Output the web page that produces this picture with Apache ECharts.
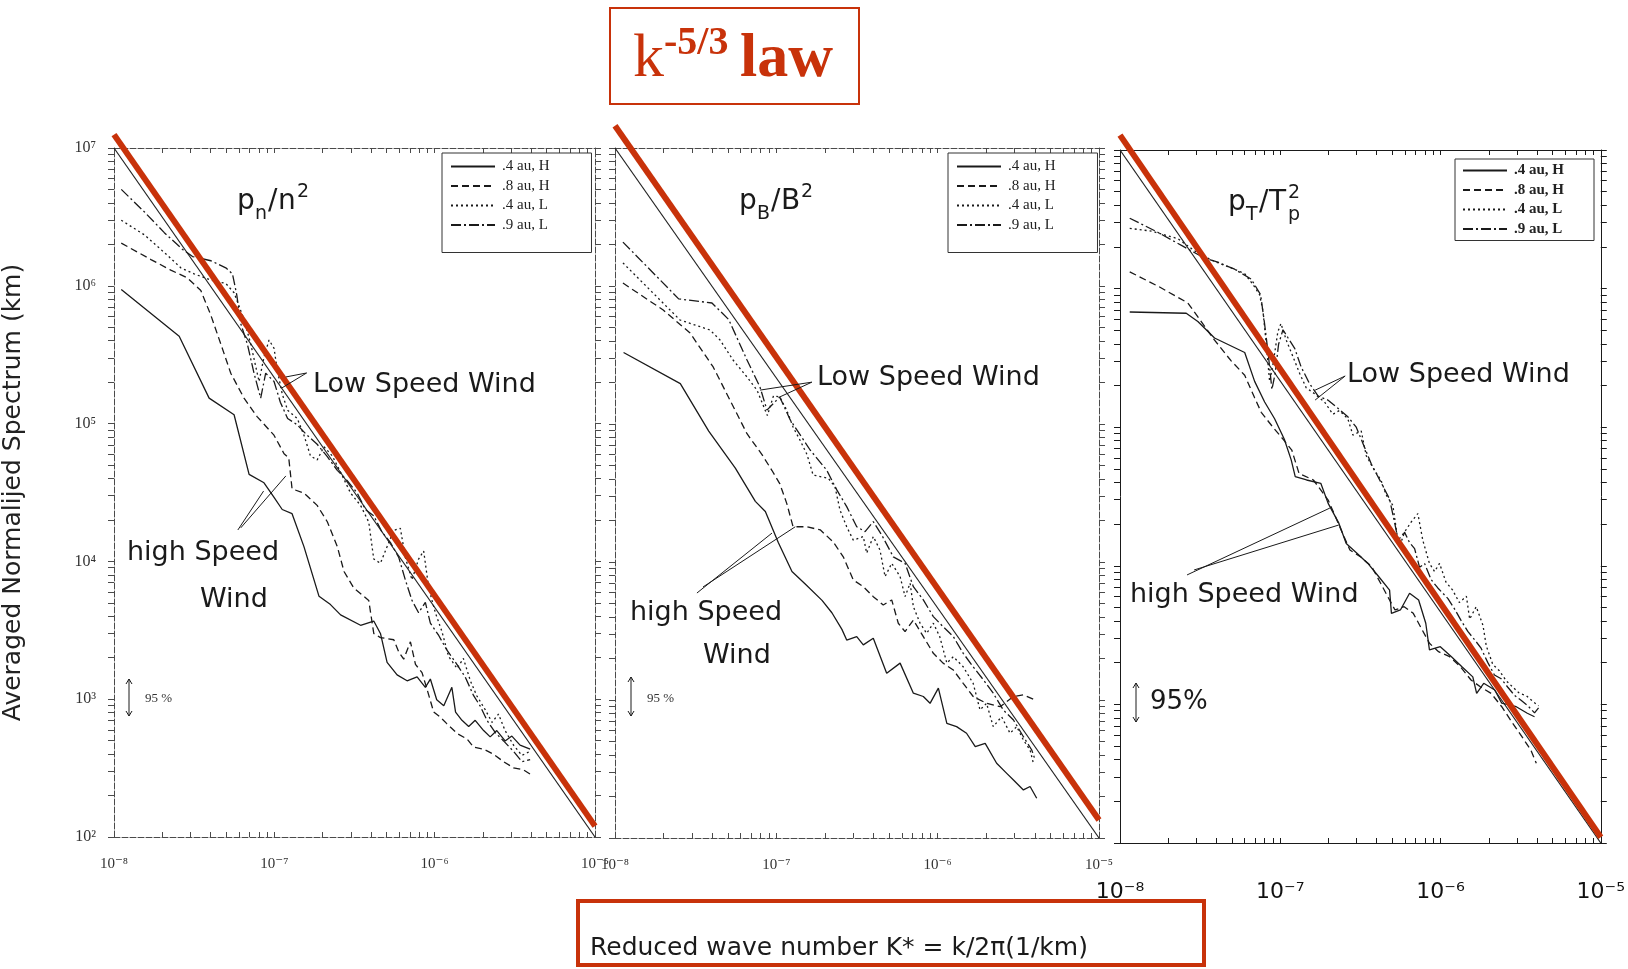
<!DOCTYPE html>
<html>
<head>
<meta charset="utf-8">
<script src="https://cdn.jsdelivr.net/npm/echarts@6/dist/echarts.min.js"></script>
<style>
  html, body { margin: 0; padding: 0; background: #fff; }
  #chart { width: 1628px; height: 969px; }
</style>
</head>
<body>
<div id="chart"></div>
<script>
// ---- axis ranges and tick labels ----
const kTicks = [1e-8, 1e-7, 1e-6, 1e-5];
const sTicks = [1e2, 1e3, 1e4, 1e5, 1e6, 1e7];
const seriesNames = ['.4 au, H', '.8 au, H', '.4 au, L', '.9 au, L'];

// ---- density spectra p_n / n^2 : [K*, spectrum] ----
const pnSolid = [[1.11e-8,9.4e5],[2.55e-8,4.3e5],[3.92e-8,1.53e5],[5.61e-8,1.16e5],[6.96e-8,4.28e4],[8.62e-8,3.72e4],[9.96e-8,2.92e4],[1.12e-7,2.38e4],[1.29e-7,2.22e4],[1.53e-7,1.28e4],[1.90e-7,5.58e3],[2.24e-7,4.86e3],[2.59e-7,4.09e3],[3.45e-7,3.44e3],[4.17e-7,3.69e3],[4.59e-7,3.0e3],[5.05e-7,1.85e3],[5.83e-7,1.50e3],[6.73e-7,1.36e3],[7.77e-7,1.45e3],[8.75e-7,1.22e3],[9.40e-7,1.40e3],[1.03e-6,9.9e2],[1.14e-6,8.95e2],[1.28e-6,1.22e3],[1.35e-6,8.07e2],[1.48e-6,7.03e2],[1.63e-6,6.34e2],[1.79e-6,7.03e2],[2.02e-6,5.92e2],[2.22e-6,5.33e2],[2.44e-6,5.92e2],[2.75e-6,4.98e2],[3.03e-6,5.4e2],[3.41e-6,4.64e2],[3.94e-6,4.34e2]];
const pnDashed = [[1.11e-8,2.04e6],[1.70e-8,1.55e6],[2.26e-8,1.30e6],[2.87e-8,1.14e6],[3.48e-8,9.24e5],[4.02e-8,6.11e5],[4.64e-8,3.77e5],[5.35e-8,2.32e5],[6.47e-8,1.53e5],[7.83e-8,1.12e5],[9.95e-8,8.24e4],[1.15e-7,6.04e4],[1.23e-7,5.64e4],[1.29e-7,3.36e4],[1.53e-7,3.13e4],[1.85e-7,2.55e4],[2.14e-7,1.94e4],[2.47e-7,1.28e4],[2.72e-7,8.45e3],[3.13e-7,6.41e3],[3.62e-7,5.58e3],[3.88e-7,5.21e3],[4.17e-7,3.0e3],[4.59e-7,2.80e3],[5.56e-7,2.70e3],[5.97e-7,2.20e3],[6.41e-7,1.95e3],[7.06e-7,2.61e3],[7.59e-7,1.79e3],[8.34e-7,1.56e3],[8.96e-7,1.18e3],[9.86e-7,8.07e2],[1.08e-6,7.43e2],[1.19e-6,6.65e2],[1.38e-6,5.64e2],[1.59e-6,5.15e2],[1.75e-6,4.49e2],[2.02e-6,4.34e2],[2.33e-6,3.99e2],[2.69e-6,3.52e2],[3.10e-6,3.18e2],[3.58e-6,3.07e2],[3.94e-6,2.86e2]];
const pnDotted = [[1.11e-8,2.99e6],[1.55e-8,2.34e6],[2.16e-8,1.66e6],[2.61e-8,1.35e6],[3.16e-8,1.22e6],[4.02e-8,1.10e6],[4.98e-8,1.04e6],[5.61e-8,8.9e5],[6.47e-8,5.7e5],[7.13e-8,3.77e5],[8.03e-8,2.02e5],[8.63e-8,3.06e5],[9.27e-8,4.04e5],[9.96e-8,3.52e5],[1.04e-7,2.49e5],[1.12e-7,1.64e5],[1.21e-7,1.25e5],[1.39e-7,1.09e5],[1.53e-7,8.24e4],[1.68e-7,5.83e4],[1.85e-7,5.45e4],[2.04e-7,6.79e4],[2.30e-7,5.83e4],[2.59e-7,4.43e4],[2.99e-7,3.13e4],[3.45e-7,2.55e4],[3.88e-7,1.93e4],[4.17e-7,1.04e4],[4.59e-7,9.7e3],[5.05e-7,1.28e4],[5.56e-7,1.68e4],[6.11e-7,1.74e4],[6.56e-7,1.07e4],[7.22e-7,7.35e3],[7.94e-7,1.04e4],[8.54e-7,1.19e4],[9.18e-7,6.41e3],[1.01e-6,4.24e3],[1.11e-6,3.10e3],[1.22e-6,2.05e3],[1.38e-6,1.67e3],[1.51e-6,1.98e3],[1.67e-6,1.36e3],[1.83e-6,1.06e3],[2.07e-6,8.36e2],[2.28e-6,6.79e2],[2.50e-6,7.80e2],[2.75e-6,5.92e2],[3.10e-6,4.65e2],[3.50e-6,3.91e2],[3.94e-6,4.19e2]];
const pnDashDot = [[1.11e-8,5.01e6],[1.55e-8,3.43e6],[2.06e-8,2.43e6],[2.67e-8,1.84e6],[3.09e-8,1.63e6],[4.02e-8,1.52e6],[4.98e-8,1.35e6],[5.48e-8,1.22e6],[5.83e-8,8.6e5],[6.17e-8,5.32e5],[6.79e-8,3.77e5],[7.47e-8,2.32e5],[8.22e-8,1.53e5],[8.83e-8,2.32e5],[9.96e-8,2.02e5],[1.09e-7,1.43e5],[1.21e-7,1.09e5],[1.39e-7,9.8e4],[1.60e-7,8.24e4],[1.85e-7,7.08e4],[2.14e-7,5.76e4],[2.47e-7,4.58e4],[2.85e-7,3.85e4],[3.29e-7,3.13e4],[3.70e-7,2.38e4],[4.17e-7,2.14e4],[4.70e-7,1.63e4],[5.30e-7,1.37e4],[5.97e-7,1.07e4],[6.56e-7,7.35e3],[7.22e-7,5.21e3],[7.94e-7,4.24e3],[8.75e-7,5.04e3],[9.40e-7,3.56e3],[1.06e-6,2.90e3],[1.19e-6,2.28e3],[1.35e-6,1.85e3],[1.55e-6,1.45e3],[1.75e-6,1.06e3],[1.92e-6,8.95e2],[2.12e-6,7.03e2],[2.39e-6,5.71e2],[2.69e-6,4.98e2],[3.10e-6,4.19e2],[3.50e-6,3.52e2],[3.94e-6,3.65e2]];

// ---- magnetic field spectra p_B / B^2 ----
const pbSolid = [[1.13e-8,3.3e5],[2.54e-8,1.96e5],[3.81e-8,8.89e4],[5.57e-8,4.79e4],[7.41e-8,2.75e4],[8.55e-8,2.32e4],[1.03e-7,1.38e4],[1.25e-7,8.53e3],[1.51e-7,6.93e3],[1.92e-7,5.27e3],[2.21e-7,4.29e3],[2.55e-7,3.25e3],[2.73e-7,2.72e3],[3.15e-7,2.88e3],[3.46e-7,2.51e3],[3.99e-7,2.80e3],[4.83e-7,1.56e3],[5.85e-7,1.85e3],[7.07e-7,1.12e3],[8.15e-7,1.06e3],[8.97e-7,9.46e2],[1.01e-6,1.22e3],[1.14e-6,6.78e2],[1.31e-6,6.41e2],[1.51e-6,5.74e2],[1.71e-6,4.59e2],[1.97e-6,4.85e2],[2.32e-6,3.48e2],[2.68e-6,2.94e2],[2.95e-6,2.63e2],[3.40e-6,2.23e2],[3.74e-6,2.36e2],[4.11e-6,1.94e2]];
const pbDashed = [[1.12e-8,1.05e6],[1.99e-8,6.7e5],[2.92e-8,4.56e5],[4.06e-8,2.59e5],[5.16e-8,1.49e5],[6.58e-8,8.5e4],[8.15e-8,6.0e4],[9.4e-8,4.6e4],[1.05e-7,3.7e4],[1.16e-7,2.66e4],[1.27e-7,1.8e4],[1.54e-7,1.8e4],[1.87e-7,1.71e4],[2.25e-7,1.4e4],[2.6e-7,1.09e4],[3.0e-7,7.41e3],[3.46e-7,6.62e3],[3.99e-7,5.61e3],[4.6e-7,4.88e3],[5.19e-7,5.31e3],[5.7e-7,3.6e3],[6.28e-7,3.13e3],[7.07e-7,3.8e3],[8.15e-7,2.88e3],[9.4e-7,2.18e3],[1.08e-6,1.85e3],[1.25e-6,1.65e3],[1.44e-6,1.32e3],[1.66e-6,1.06e3],[2.01e-6,9.46e2],[2.44e-6,8.94e2],[2.95e-6,1.06e3],[3.4e-6,1.09e3],[4.02e-6,1.0e3]];
const pbDotted = [[1.12e-8,1.47e6],[2.53e-8,5.67e5],[3.88e-8,4.8e5],[4.48e-8,4.06e5],[5.39e-8,2.91e5],[6.58e-8,2.19e5],[7.59e-8,1.76e5],[8.8e-8,1.15e5],[9.6e-8,1.6e5],[1.05e-7,1.57e5],[1.16e-7,1.26e5],[1.27e-7,9.5e4],[1.40e-7,7.66e4],[1.55e-7,6.0e4],[1.69e-7,4.27e4],[2.10e-7,4.04e4],[2.31e-7,3.51e4],[2.48e-7,2.38e4],[2.73e-7,1.80e4],[3.0e-7,1.44e4],[3.46e-7,1.53e4],[3.63e-7,1.16e4],[3.99e-7,1.53e4],[4.39e-7,1.22e4],[4.72e-7,7.83e3],[5.19e-7,9.78e3],[5.85e-7,7.83e3],[6.28e-7,5.61e3],[6.75e-7,7.02e3],[7.07e-7,4.74e3],[7.78e-7,3.6e3],[8.55e-7,3.04e3],[9.40e-7,3.6e3],[1.03e-6,2.88e3],[1.14e-6,1.85e3],[1.25e-6,2.06e3],[1.44e-6,1.74e3],[1.66e-6,1.32e3],[1.83e-6,8.47e2],[2.01e-6,9.46e2],[2.21e-6,6.41e2],[2.49e-6,7.57e2],[2.81e-6,5.74e2],[3.09e-6,6.41e2],[3.40e-6,5.13e2],[3.74e-6,4.34e2],[3.92e-6,3.48e2]];
const pbDashDot = [[1.12e-8,2.08e6],[2.48e-8,8.07e5],[3.99e-8,7.53e5],[5.07e-8,5.71e5],[6.58e-8,2.91e5],[7.92e-8,1.85e5],[8.75e-8,1.26e5],[1.05e-7,1.57e5],[1.22e-7,1.07e5],[1.62e-7,6.48e4],[2.05e-7,4.64e4],[2.37e-7,3.33e4],[2.73e-7,2.52e4],[3.15e-7,1.80e4],[3.55e-7,1.66e4],[3.99e-7,1.96e4],[4.50e-7,1.57e4],[5.31e-7,1.09e4],[6.28e-7,9.78e3],[7.07e-7,6.62e3],[8.15e-7,5.31e3],[9.40e-7,4.02e3],[1.08e-6,3.40e3],[1.25e-6,2.88e3],[1.44e-6,2.18e3],[1.66e-6,1.74e3],[1.92e-6,1.40e3],[2.21e-6,1.12e3],[2.55e-6,8.47e2],[2.95e-6,7.16e2],[3.40e-6,5.42e2],[3.83e-6,4.34e2],[4.02e-6,3.68e2]];

// ---- temperature spectra p_T / T_p^2 ----
const ptSolid = [[1.15e-8,6.78e5],[2.59e-8,6.64e5],[3.06e-8,5.79e5],[3.89e-8,4.40e5],[6.0e-8,3.46e5],[6.92e-8,2.14e5],[7.99e-8,1.52e5],[9.22e-8,1.15e5],[1.06e-7,8.18e4],[1.17e-7,5.81e4],[1.24e-7,4.40e4],[1.46e-7,4.16e4],[1.79e-7,3.94e4],[1.99e-7,2.82e4],[2.32e-7,2.03e4],[2.58e-7,1.45e4],[3.01e-7,1.23e4],[3.52e-7,1.04e4],[4.12e-7,8.34e3],[4.81e-7,6.68e3],[4.94e-7,4.54e3],[5.62e-7,4.80e3],[6.41e-7,6.34e3],[7.30e-7,5.66e3],[8.09e-7,3.85e3],[8.53e-7,2.47e3],[9.97e-7,2.61e3],[1.17e-6,2.21e3],[1.36e-6,1.87e3],[1.59e-6,1.58e3],[1.68e-6,1.20e3],[1.86e-6,1.42e3],[2.18e-6,1.27e3],[2.41e-6,1.02e3],[2.97e-6,9.62e2],[3.48e-6,8.63e2],[3.86e-6,8.15e2]];
const ptDashed = [[1.15e-8,1.32e6],[1.73e-8,1.04e6],[2.65e-8,7.88e5],[3.14e-8,6.0e5],[3.89e-8,4.25e5],[4.94e-8,3.01e5],[6.0e-8,2.37e5],[6.92e-8,1.63e5],[7.61e-8,1.28e5],[9.0e-8,1.0e5],[1.04e-7,8.2e4],[1.18e-7,6.84e4],[1.31e-7,4.64e4],[1.61e-7,4.16e4],[1.99e-7,2.98e4],[2.21e-7,2.26e4],[2.45e-7,1.71e4],[2.72e-7,1.30e4],[3.18e-7,1.16e4],[3.72e-7,9.86e3],[4.23e-7,7.48e3],[4.69e-7,5.98e3],[5.20e-7,4.80e3],[5.93e-7,5.07e3],[6.76e-7,4.54e3],[7.69e-7,3.44e3],[8.53e-7,2.76e3],[9.72e-7,2.40e3],[1.14e-6,2.21e3],[1.33e-6,1.87e3],[1.55e-6,1.50e3],[1.77e-6,1.34e3],[2.07e-6,1.20e3],[2.41e-6,9.62e2],[2.82e-6,7.31e2],[3.22e-6,5.85e2],[3.66e-6,4.69e2],[3.96e-6,3.76e2]];
const ptDotted = [[1.15e-8,2.72e6],[1.57e-8,2.6e6],[2.30e-8,2.29e6],[3.06e-8,1.80e6],[3.89e-8,1.57e6],[4.94e-8,1.41e6],[6.0e-8,1.28e6],[6.76e-8,1.07e6],[7.43e-8,9.04e5],[7.80e-8,6.87e5],[8.18e-8,3.97e5],[8.58e-8,2.14e5],[9.0e-8,2.82e5],[9.66e-8,4.88e5],[1.01e-7,5.60e5],[1.09e-7,4.25e5],[1.20e-7,3.23e5],[1.32e-7,2.45e5],[1.45e-7,1.93e5],[1.64e-7,1.74e5],[1.89e-7,1.52e5],[2.13e-7,1.24e5],[2.34e-7,1.32e5],[2.64e-7,1.15e5],[2.84e-7,8.77e4],[3.20e-7,9.39e4],[3.44e-7,6.22e4],[3.87e-7,4.89e4],[4.26e-7,4.12e4],[4.58e-7,3.24e4],[5.04e-7,2.73e4],[5.42e-7,1.52e4],[5.96e-7,1.75e4],[6.56e-7,2.07e4],[7.22e-7,2.38e4],[7.76e-7,1.52e4],[8.53e-7,1.04e4],[9.18e-7,9.09e3],[9.86e-7,1.04e4],[1.08e-6,7.65e3],[1.19e-6,6.68e3],[1.31e-6,5.43e3],[1.45e-6,6.03e3],[1.52e-6,4.13e3],[1.67e-6,5.07e3],[1.84e-6,3.72e3],[1.93e-6,2.64e3],[2.12e-6,1.94e3],[2.33e-6,1.75e3],[2.57e-6,1.48e3],[2.83e-6,1.33e3],[3.11e-6,1.20e3],[3.42e-6,1.16e3],[3.77e-6,1.05e3],[4.09e-6,9.77e2]];
const ptDashDot = [[1.15e-8,3.22e6],[1.73e-8,2.54e6],[2.53e-8,1.99e6],[3.37e-8,1.66e6],[4.08e-8,1.55e6],[5.19e-8,1.38e6],[6.59e-8,1.17e6],[7.54e-8,9.04e5],[7.98e-8,5.60e5],[8.45e-8,3.23e5],[8.87e-8,1.87e5],[9.30e-8,2.45e5],[9.76e-8,3.97e5],[1.04e-7,5.05e5],[1.12e-7,4.40e5],[1.23e-7,3.71e5],[1.35e-7,2.72e5],[1.52e-7,2.07e5],[1.72e-7,1.68e5],[1.98e-7,1.57e5],[2.29e-7,1.37e5],[2.64e-7,1.19e5],[2.98e-7,1.0e5],[3.28e-7,7.64e4],[3.70e-7,5.42e4],[4.26e-7,3.98e4],[4.81e-7,3.03e4],[5.16e-7,2.07e4],[5.55e-7,1.37e4],[5.96e-7,1.75e4],[6.41e-7,1.47e4],[6.89e-7,1.33e4],[7.40e-7,9.75e3],[7.95e-7,1.04e4],[8.75e-7,7.93e3],[9.62e-7,6.92e3],[1.11e-6,5.82e3],[1.22e-6,4.91e3],[1.35e-6,3.99e3],[1.48e-6,3.36e3],[1.63e-6,2.93e3],[1.79e-6,2.55e3],[1.97e-6,2.01e3],[2.17e-6,1.63e3],[2.39e-6,1.53e3],[2.63e-6,1.33e3],[2.90e-6,1.16e3],[3.18e-6,1.07e3],[3.51e-6,9.77e2],[3.86e-6,8.69e2],[4.09e-6,9.44e2]];

// ---- reference slope and hand-drawn k^-5/3 law lines ----
const slopeLine = [[1e-8, 1e7], [1e-5, 1e2]];
const lawLineN = [[1e-8, 1.25e7], [1e-5, 1.2e2]];
const lawLineB = [[1e-8, 1.45e7], [1e-5, 1.35e2]];
const lawLineT = [[1e-8, 1.28e7], [1e-5, 1.1e2]];

// ---- leader lines for the wind annotations: pairs of [K*, spectrum] ----
const pnLeaders = [[[1.59e-7,2.33e5],[1.18e-7,2.18e5]], [[1.59e-7,2.33e5],[1.11e-7,1.81e5]], [[5.92e-8,1.69e4],[8.57e-8,3.24e4]], [[6.17e-8,1.75e4],[1.18e-7,4.17e4]]];
const pbLeaders = [[[1.66e-7,2.01e5],[7.92e-8,1.76e5]], [[1.66e-7,2.01e5],[1.05e-7,1.57e5]], [[3.22e-8,5.96e3],[9.40e-8,1.62e4]], [[3.51e-8,6.59e3],[1.31e-7,1.80e4]]];
const ptLeaders = [[[2.54e-7,2.34e5],[1.65e-7,1.85e5]], [[2.54e-7,2.34e5],[1.65e-7,1.57e5]], [[2.62e-8,8.59e3],[2.04e-7,2.61e4]], [[2.90e-8,9.33e3],[2.32e-7,1.97e4]]];

// ---------------------------------------------------------------
const RED = '#c8320a';
const INK = '#1a1a1a';
const SANS = '"DejaVu Sans", "Noto Sans", sans-serif';
const SERIF = '"Liberation Serif", "DejaVu Serif", serif';

const supMap = {'-': '\u207B', '0': '\u2070', '1': '\u00B9', '2': '\u00B2', '3': '\u00B3', '4': '\u2074', '5': '\u2075', '6': '\u2076', '7': '\u2077', '8': '\u2078', '9': '\u2079'};
function powLabel(v) {
  const e = Math.round(Math.log10(v));
  return '10' + String(e).split('').map(c => supMap[c]).join('');
}
function logMinor(lo, hi) {
  const out = [];
  for (let e = lo; e < hi; e++) for (let m = 1; m < 10; m++) out.push(+(m * Math.pow(10, e)).toPrecision(3));
  out.push(Math.pow(10, hi));
  return out;
}
const kMinor = logMinor(-8, -5);
const sMinor = logMinor(2, 7);

const panels = [
  { grid: {left: 113, top: 148, width: 482, height: 689}, curves: [pnSolid, pnDashed, pnDotted, pnDashDot], law: lawLineN, leaders: pnLeaders, axisColor: '#4a4a4a', axisType: [6, 2] },
  { grid: {left: 615, top: 148, width: 484, height: 690}, curves: [pbSolid, pbDashed, pbDotted, pbDashDot], law: lawLineB, leaders: pbLeaders, axisColor: '#4a4a4a', axisType: [6, 2] },
  { grid: {left: 1120, top: 150, width: 481, height: 693}, curves: [ptSolid, ptDashed, ptDotted, ptDashDot], law: lawLineT, leaders: ptLeaders, axisColor: '#1a1a1a', axisType: 'solid' }
];
const dashTypes = ['solid', [7, 4], [2, 3], [10, 3, 2, 3]];

const xAxes = [], yAxes = [], series = [];
panels.forEach((p, i) => {
  const line = {show: true, lineStyle: {color: p.axisColor, width: 1, type: p.axisType}};
  const tickIn = {show: true, inside: true, length: 5, customValues: kMinor, lineStyle: {color: p.axisColor}};
  const bottomLabel = i < 2
    ? {show: true, customValues: kTicks, formatter: powLabel, margin: 20, fontFamily: SERIF, fontSize: 15, color: '#333'}
    : {show: true, customValues: kTicks, formatter: powLabel, margin: 38, fontFamily: SANS, fontSize: 22, color: '#111'};
  xAxes.push({type: 'log', logBase: 10, gridIndex: i, position: 'bottom', min: 1e-8, max: 1e-5,
    axisLine: line, axisTick: tickIn, axisLabel: bottomLabel, splitLine: {show: false}, minorTick: {show: false}});
  xAxes.push({type: 'log', logBase: 10, gridIndex: i, position: 'top', min: 1e-8, max: 1e-5,
    axisLine: line, axisTick: tickIn, axisLabel: {show: false}, splitLine: {show: false}});
  const tickOut = {show: true, inside: false, length: 6, customValues: sMinor, lineStyle: {color: p.axisColor}};
  const left = {type: 'log', logBase: 10, gridIndex: i, position: 'left', min: 1e2, max: 1e7,
    axisLine: line, axisTick: tickOut, splitLine: {show: false},
    axisLabel: i === 0 ? {show: true, customValues: sTicks, formatter: powLabel, margin: 18, fontFamily: SERIF, fontSize: 16, color: '#333'} : {show: false}};
  if (i === 0) {
    Object.assign(left, {name: 'Averaged Normalijed Spectrum (km)', nameLocation: 'middle', nameGap: 88, nameRotate: 90,
      nameTextStyle: {fontFamily: SANS, fontSize: 25, color: '#222'}});
  }
  yAxes.push(left);
  yAxes.push({type: 'log', logBase: 10, gridIndex: i, position: 'right', min: 1e2, max: 1e7,
    axisLine: line, axisTick: tickOut, axisLabel: {show: false}, splitLine: {show: false}});

  p.curves.forEach((data, j) => {
    series.push({type: 'line', name: seriesNames[j], data, xAxisIndex: 2 * i, yAxisIndex: 2 * i,
      symbol: 'none', showSymbol: false, silent: true, z: 3,
      lineStyle: {color: INK, width: 1.3, type: dashTypes[j]}});
  });
  series.push({type: 'line', name: 'slope', data: slopeLine, xAxisIndex: 2 * i, yAxisIndex: 2 * i,
    symbol: 'none', silent: true, z: 4, lineStyle: {color: '#222', width: 1.2}});
  series.push({type: 'line', name: 'law', data: p.law, xAxisIndex: 2 * i, yAxisIndex: 2 * i,
    symbol: 'none', silent: true, clip: false, z: 6, lineStyle: {color: RED, width: 6}});
});

function legendAt(left, top, padding, bold) {
  return {show: true, data: seriesNames, orient: 'vertical', left, top, padding, selectedMode: false,
    itemWidth: 44, itemHeight: 12, itemGap: 4.5, itemStyle: {opacity: 0},
    borderColor: '#333', borderWidth: 1, backgroundColor: '#fff',
    textStyle: {fontFamily: SERIF, fontSize: 15, color: '#222', fontWeight: bold ? 'bold' : 'normal', padding: [0, 0, 0, 2]}};
}

const chart = echarts.init(document.getElementById('chart'), null, {renderer: 'canvas', width: 1628, height: 969});
chart.setOption({
  animation: false,
  backgroundColor: '#ffffff',
  grid: panels.map(p => Object.assign({containLabel: false}, p.grid)),
  xAxis: xAxes,
  yAxis: yAxes,
  legend: [legendAt(442, 153, [6, 42, 20, 8], false), legendAt(948, 153, [6, 42, 20, 8], false), legendAt(1455, 159, [4, 30, 4, 7], true)],
  series
});

// ---- annotations ----
function txt(text, x, y, size, opts) {
  return Object.assign({type: 'text', x, y, silent: true, z: 10,
    style: {text, fontFamily: SANS, fontSize: size, fill: INK, textVerticalAlign: 'middle', textAlign: 'left'}}, opts || {});
}
function styled(el, style) { Object.assign(el.style, style); return el; }

function arrow95(x, y1, y2) {
  const s = 3;
  return [
    {type: 'line', silent: true, z: 10, shape: {x1: x, y1: y1, x2: x, y2: y2}, style: {stroke: INK, lineWidth: 1}},
    {type: 'polyline', silent: true, z: 10, shape: {points: [[x - s, y1 + 5], [x, y1], [x + s, y1 + 5]]}, style: {stroke: INK, lineWidth: 1, fill: null}},
    {type: 'polyline', silent: true, z: 10, shape: {points: [[x - s, y2 - 5], [x, y2], [x + s, y2 - 5]]}, style: {stroke: INK, lineWidth: 1, fill: null}}
  ];
}

const graphics = [];
// panel titles built from base, subscript and superscript pieces
[
  [['p', 237, 202, 28], ['n', 255, 214, 19], ['/', 268, 202, 28], ['n', 278, 202, 28], ['2', 297, 192, 19]],
  [['p', 739, 202, 28], ['B', 757, 214, 19], ['/', 771, 202, 28], ['B', 781, 202, 28], ['2', 801, 192, 19]],
  [['p', 1228, 203, 28], ['T', 1246, 215, 19], ['/', 1259, 203, 28], ['T', 1269, 203, 28], ['2', 1288, 193, 19], ['p', 1288, 215, 19]]
].forEach(title => title.forEach(([t, x, y, s]) => graphics.push(txt(t, x, y, s))));

// wind labels
graphics.push(txt('Low Speed Wind', 313, 385, 27));
graphics.push(txt('high Speed', 127, 553, 27));
graphics.push(txt('Wind', 200, 600, 27));
graphics.push(txt('Low Speed Wind', 817, 378, 27));
graphics.push(txt('high Speed', 630, 613, 27));
graphics.push(txt('Wind', 703, 656, 27));
graphics.push(txt('Low Speed Wind', 1347, 375, 27));
graphics.push(txt('high Speed Wind', 1130, 595, 27));

// 95 % confidence markers
graphics.push(...arrow95(129, 679, 716), styled(txt('95 %', 145, 699, 13), {fontFamily: SERIF, fill: '#333'}));
graphics.push(...arrow95(631, 677, 716), styled(txt('95 %', 647, 699, 13), {fontFamily: SERIF, fill: '#333'}));
graphics.push(...arrow95(1136, 683, 722), txt('95%', 1150, 702, 26));

// k^-5/3 law badge
graphics.push({type: 'rect', silent: true, z: 10, shape: {x: 610, y: 8, width: 249, height: 96}, style: {fill: '#fff', stroke: RED, lineWidth: 2}});
graphics.push(styled(txt('k', 633, 60, 62), {fontFamily: SERIF, fill: RED}));
graphics.push(styled(txt('-5/3', 664, 44, 40), {fontFamily: SERIF, fill: RED, fontWeight: 'bold'}));
graphics.push(styled(txt('law', 740, 60, 62), {fontFamily: SERIF, fill: RED, fontWeight: 'bold'}));

// shared x-axis caption
graphics.push({type: 'rect', silent: true, z: 10, shape: {x: 578, y: 901, width: 626, height: 64}, style: {fill: '#fff', stroke: RED, lineWidth: 4}});
graphics.push(txt('Reduced wave number K* = k/2\u03C0(1/km)', 590, 948, 25));

// leader lines, placed through each panel's own axes
panels.forEach((p, i) => {
  p.leaders.forEach(([a, b]) => {
    const pa = chart.convertToPixel({xAxisIndex: 2 * i, yAxisIndex: 2 * i}, a);
    const pb = chart.convertToPixel({xAxisIndex: 2 * i, yAxisIndex: 2 * i}, b);
    graphics.push({type: 'line', silent: true, z: 9, shape: {x1: pa[0], y1: pa[1], x2: pb[0], y2: pb[1]}, style: {stroke: INK, lineWidth: 1}});
  });
});

chart.setOption({graphic: graphics});
</script>
</body>
</html>
